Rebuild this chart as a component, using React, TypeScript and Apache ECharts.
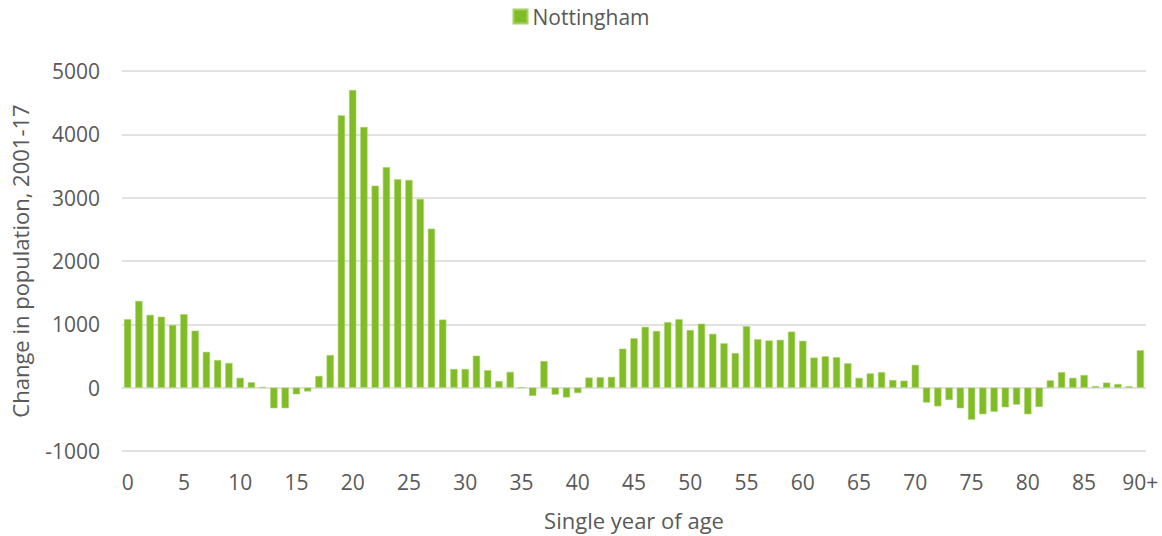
import React, { useEffect, useRef } from "react";
import * as echarts from "echarts";

const ages: string[] = [
  "0","1","2","3","4","5","6","7","8","9",
  "10","11","12","13","14","15","16","17","18","19",
  "20","21","22","23","24","25","26","27","28","29",
  "30","31","32","33","34","35","36","37","38","39",
  "40","41","42","43","44","45","46","47","48","49",
  "50","51","52","53","54","55","56","57","58","59",
  "60","61","62","63","64","65","66","67","68","69",
  "70","71","72","73","74","75","76","77","78","79",
  "80","81","82","83","84","85","86","87","88","89",
  "90+",
];

const nottingham: number[] = [
  1080, 1370, 1150, 1120, 990, 1160, 900, 565, 435, 390,
  155, 85, 10, -325, -325, -105, -60, 185, 515, 4300,
  4700, 4115, 3190, 3480, 3290, 3280, 2980, 2510, 1075, 295,
  295, 505, 275, 105, 250, 0, -130, 420, -110, -155,
  -85, 160, 165, 170, 615, 780, 960, 895, 1035, 1080,
  910, 1010, 850, 700, 545, 970, 765, 745, 755, 885,
  740, 475, 495, 480, 385, 155, 225, 245, 120, 110,
  360, -235, -295, -195, -325, -505, -420, -380, -310, -268,
  -420, -305, 115, 245, 155, 200, 25, 80, 58, 22,
  590,
];

const yTicks = { min: -1000, max: 5000, interval: 1000 };

const FONT = "'Open Sans', 'Noto Sans', sans-serif";
const TEXT = "#595959";
const GREEN = "#80bc26";

export default function App() {
  const ref = useRef<HTMLDivElement>(null);
  useEffect(() => {
    if (!ref.current) return;
    const chart = echarts.init(ref.current, null, { renderer: "svg" });
    chart.setOption({
      animation: false,
      backgroundColor: "#ffffff",
      textStyle: { fontFamily: FONT },
      legend: {
        top: 1,
        left: "center",
        itemWidth: 14,
        itemHeight: 14,
        itemGap: 10,
        icon: "rect",
        textStyle: { fontSize: 21, color: TEXT, fontFamily: FONT },
        data: ["Nottingham"],
      },
      grid: { left: 122, right: 16, top: 71, bottom: 78, containLabel: false },
      xAxis: {
        type: "category",
        data: ages,
        name: "Single year of age",
        nameLocation: "middle",
        nameGap: 58,
        nameTextStyle: { fontSize: 22, color: TEXT, fontFamily: FONT },
        axisLine: { show: false },
        axisTick: { show: false },
        axisLabel: {
          interval: 4,
          fontSize: 21,
          color: TEXT,
          margin: 20,
          fontFamily: FONT,
        },
        splitLine: { show: false },
      },
      yAxis: {
        type: "value",
        min: yTicks.min,
        max: yTicks.max,
        interval: yTicks.interval,
        name: "Change in population, 2001-17",
        nameLocation: "middle",
        nameGap: 91,
        nameRotate: 90,
        nameTextStyle: { fontSize: 22, color: TEXT, fontFamily: FONT },
        axisLine: { show: false },
        axisTick: { show: false },
        axisLabel: {
          fontSize: 21,
          color: TEXT,
          margin: 22,
          fontFamily: FONT,
          formatter: (v: number) => String(v),
        },
        splitLine: { lineStyle: { color: "#d9d9d9", width: 1.5 } },
      },
      series: [
        {
          name: "Nottingham",
          type: "bar",
          data: nottingham,
          barCategoryGap: "36%",
          itemStyle: { color: GREEN, borderColor: "#a6d262", borderWidth: 0.6 },
        },
      ],
    });
    return () => chart.dispose();
  }, []);
  return (
    <div
      ref={ref}
      style={{ position: "fixed", left: 0, top: 0, width: 1162, height: 536 }}
    />
  );
}
